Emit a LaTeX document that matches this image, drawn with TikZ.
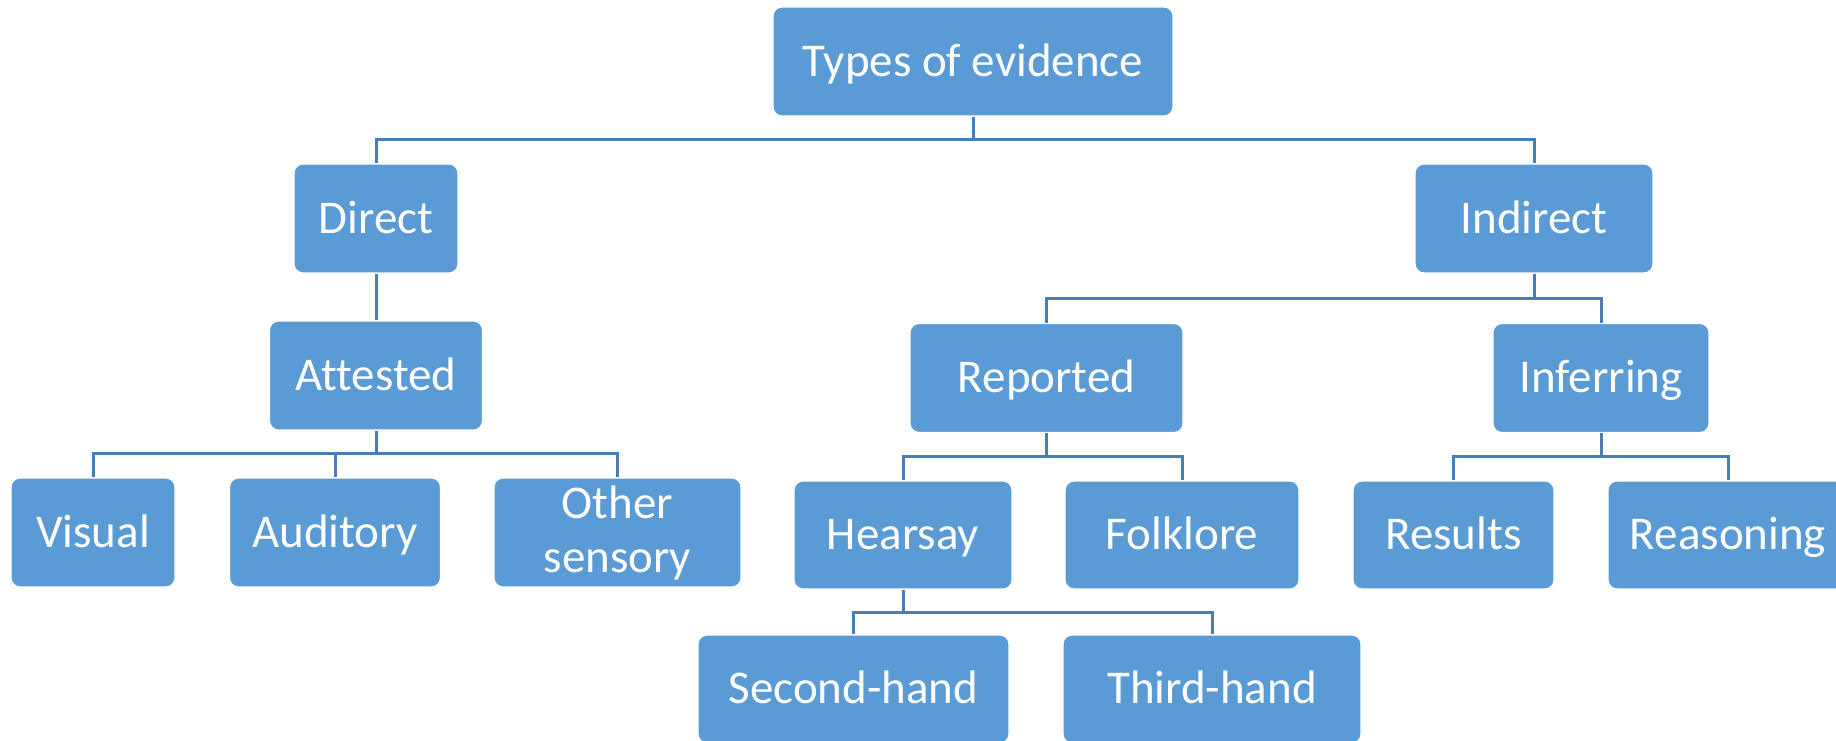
\documentclass[tikz,border=0pt]{standalone}
\usepackage{fontspec}
\setmainfont[Ligatures={NoCommon}]{Carlito}
\definecolor{boxblue}{HTML}{5B9BD5}
\definecolor{lineblue}{HTML}{4A7DB5}
\begin{document}
\begin{tikzpicture}[x=1pt,y=-1pt,
  boxbase/.style={rectangle, rounded corners=9pt, fill=boxblue, draw=white, line width=1.2pt,
    text=white, inner sep=0pt, align=center,
    font=\fontsize{47}{54}\selectfont},
  box/.style={boxbase, text height=29.5pt, text depth=0pt},
  link/.style={draw=lineblue, line width=3pt}]
\useasboundingbox (0,0) rectangle (1836,741);
% nodes
\node[box, minimum width=400pt, minimum height=109pt] (root) at (973,61.5) {Types of evidence};
\node[box, minimum width=164pt, minimum height=109pt] (direct) at (376,218.5) {Direct};
\node[box, minimum width=238pt, minimum height=109pt] (indirect) at (1534,218.5) {Indirect};
\node[box, minimum width=213pt, minimum height=109pt] (attested) at (376,375.5) {Attested};
\node[box, minimum width=273pt, minimum height=109pt] (reported) at (1046.5,378) {Reported};
\node[box, minimum width=216pt, minimum height=109pt] (inferring) at (1601,378) {Inferring};
\node[box, minimum width=164pt, minimum height=109pt] (visual) at (93,532.5) {Visual};
\node[box, minimum width=211pt, minimum height=109pt] (auditory) at (335,532.5) {Auditory};
\node[boxbase, minimum width=247pt, minimum height=109pt] (other) at (617.5,532.5) {Other\\sensory};
\node[box, minimum width=218pt, minimum height=108pt] (hearsay) at (903,535) {Hearsay};
\node[box, minimum width=234pt, minimum height=108pt] (folklore) at (1182,535) {Folklore};
\node[box, minimum width=201pt, minimum height=108pt] (results) at (1453.5,535) {Results};
\node[box, minimum width=240pt, minimum height=108pt] (reasoning) at (1728,535) {Reasoning};
\node[box, minimum width=311pt, minimum height=108pt] (second) at (853.5,689) {Second-hand};
\node[box, minimum width=298pt, minimum height=108pt] (third) at (1212,689) {Third-hand};
% connectors
\foreach \c in {direct,indirect}
  \path[link] (root.south) -- (root.south |- 0,140) -| (\c.north);
\path[link] (direct.south) -- (attested.north);
\foreach \c in {visual,auditory,other}
  \path[link] (attested.south) -- (attested.south |- 0,453) -| (\c.north);
\foreach \c in {reported,inferring}
  \path[link] (indirect.south) -- (indirect.south |- 0,298) -| (\c.north);
\foreach \c in {hearsay,folklore}
  \path[link] (reported.south) -- (reported.south |- 0,456) -| (\c.north);
\foreach \c in {results,reasoning}
  \path[link] (inferring.south) -- (inferring.south |- 0,456) -| (\c.north);
\foreach \c in {second,third}
  \path[link] (hearsay.south) -- (hearsay.south |- 0,612) -| (\c.north);
\end{tikzpicture}
\end{document}
